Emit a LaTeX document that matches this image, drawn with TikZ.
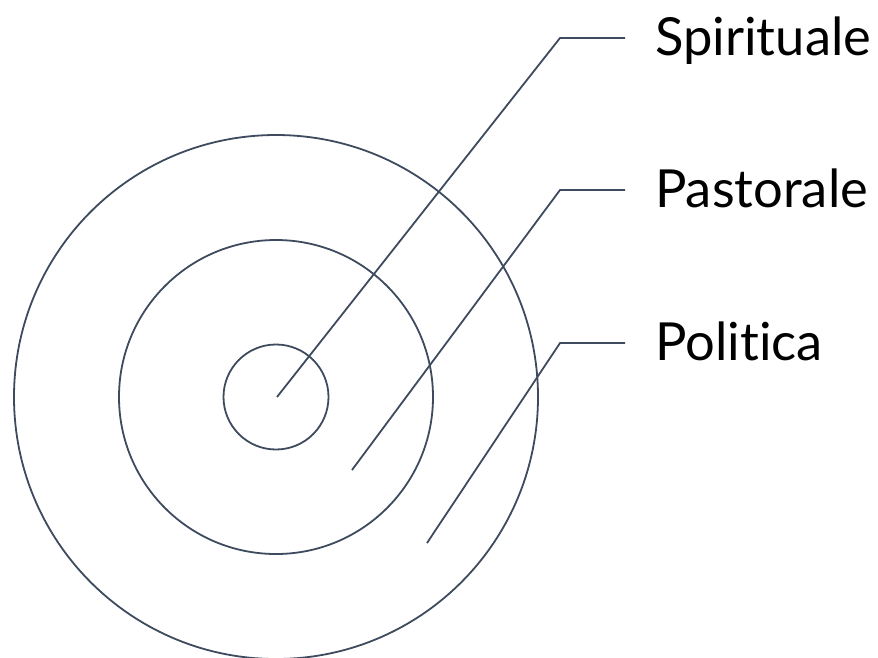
\documentclass[tikz,border=0pt]{standalone}
\usepackage{fontspec}
\setmainfont[Ligatures={NoCommon,NoRare,NoContextual}]{Lato}
\definecolor{ink}{HTML}{3E4A5D}
\begin{document}
\begin{tikzpicture}[x=1pt,y=-1pt,
  ring/.style={draw=ink,line width=1.8pt},
  leader/.style={draw=ink,line width=1.8pt},
  lbl/.style={anchor=base west,inner sep=0pt,font=\fontsize{52.5}{60}\selectfont,text=black}]
\useasboundingbox (0,0) rectangle (878,657);
\coordinate (c) at (276,397);
\draw[ring] (c) circle[radius=52.5];
\draw[ring] (c) circle[radius=157];
\draw[ring] (c) circle[radius=262];
\coordinate (s0) at (277,397);
\coordinate (s1) at (560,38);
\coordinate (s2) at (625,38);
\coordinate (p0) at (352,470);
\coordinate (p1) at (560,190);
\coordinate (p2) at (625,190);
\coordinate (o0) at (427,543);
\coordinate (o1) at (560,343);
\coordinate (o2) at (625,343);
\node[lbl] (ts) at (655,55) {Spirituale};
\node[lbl] (tp) at (655,207) {Pastorale};
\node[lbl] (to) at (655,360) {Poli{}tica};
\draw[leader] (s0) -- (s1) -- (s2);
\draw[leader] (p0) -- (p1) -- (p2);
\draw[leader] (o0) -- (o1) -- (o2);
\end{tikzpicture}
\end{document}
